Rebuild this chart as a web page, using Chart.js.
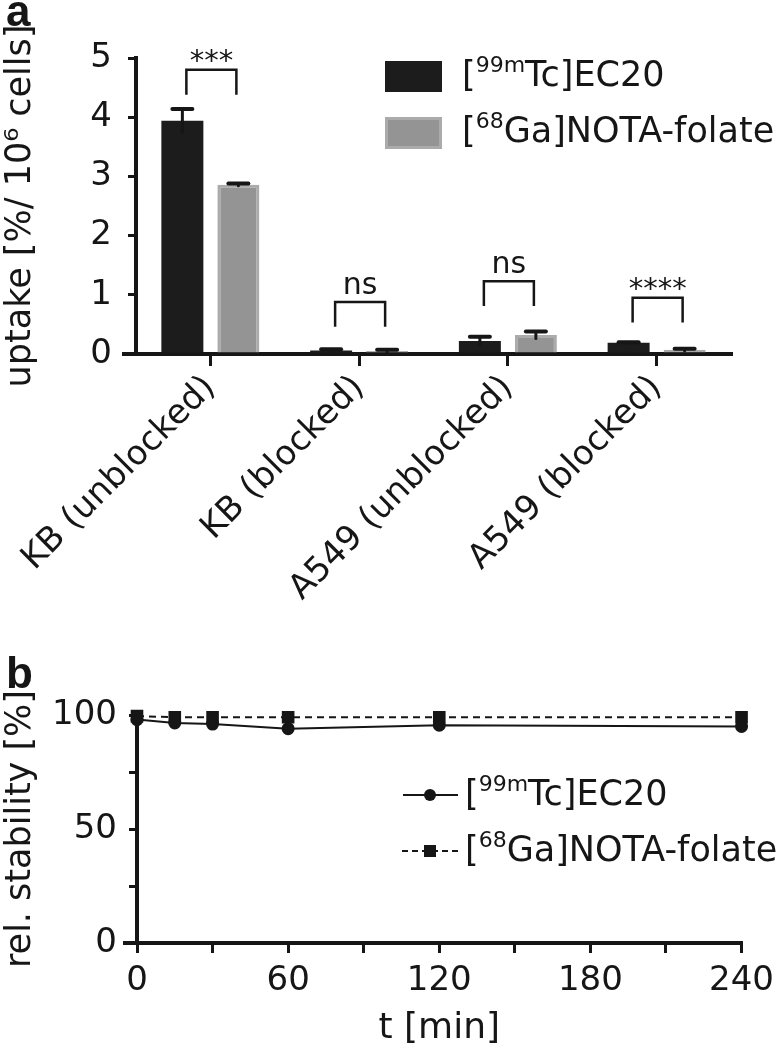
<!DOCTYPE html>
<html>
<head>
<meta charset="utf-8">
<script src="https://cdn.jsdelivr.net/npm/chart.js@4"></script>
<style>
    body { margin: 0; background: #fff; }
    #wrap { position: relative; width: 782px; height: 1050px; overflow: hidden; }
    canvas { position: absolute; left: 0; }
    #chartA { top: 0; }
    #chartB { top: 650px; }
</style>
</head>
<body>
<div id="wrap">
    <canvas id="chartA" width="782" height="650"></canvas>
    <canvas id="chartB" width="782" height="400"></canvas>
</div>
<script>
// panel a - uptake
const groups = ['KB (unblocked)', 'KB (blocked)', 'A549 (unblocked)', 'A549 (blocked)'];
const ec20Uptake = [3.94, 0.06, 0.22, 0.19];
const ec20Err = [0.2, 0.02, 0.07, 0.01];
const folateUptake = [2.86, 0.05, 0.32, 0.07];
const folateErr = [0.02, 0.02, 0.06, 0.02];
const sigLabels = ['***', 'ns', 'ns', '****'];
const sigTop = [4.8, 0.88, 1.23, 0.95];
const sigArm = 0.42;
const uptakeTicks = [0, 1, 2, 3, 4, 5];

// panel b - stability
const times = [0, 15, 30, 60, 120, 240];
const ec20Stability = [98, 96.5, 96, 94, 95.5, 95];
const folateStability = [99.5, 99, 99, 99, 99, 99];
const timeTicks = [0, 60, 120, 180, 240];
const stabilityTicks = [0, 50, 100];

// legend text split into [before, superscript, after]
const ec20Name = ['[', '99m', 'Tc]EC20'];
const folateName = ['[', '68', 'Ga]NOTA-folate'];

const ink = '#161616';
const FONT = 'DejaVu Sans';

function drawSupText(ctx, x, y, parts, size) {
    ctx.fillStyle = ink;
    ctx.textBaseline = 'middle';
    ctx.textAlign = 'left';
    ctx.font = size + 'px "' + FONT + '"';
    ctx.fillText(parts[0], x, y);
    x += ctx.measureText(parts[0]).width;
    ctx.font = Math.round(size * 0.62) + 'px "' + FONT + '"';
    ctx.fillText(parts[1], x, y - size * 0.3);
    x += ctx.measureText(parts[1]).width;
    ctx.font = size + 'px "' + FONT + '"';
    ctx.fillText(parts[2], x, y);
}

function panelLabel(ctx, text, y) {
    ctx.fillStyle = ink;
    ctx.font = 'bold 44px "Liberation Sans"';
    ctx.textAlign = 'left';
    ctx.textBaseline = 'alphabetic';
    ctx.fillText(text, 6, y);
}

function extendXAxis(chart) {
    const ctx = chart.ctx;
    const a = chart.chartArea;
    ctx.save();
    ctx.strokeStyle = ink;
    ctx.lineWidth = 4;
    ctx.beginPath();
    ctx.moveTo(a.left - 14, a.bottom);
    ctx.lineTo(a.left, a.bottom);
    ctx.stroke();
    ctx.restore();
}

const panelA = {
    id: 'panelA',
    afterDatasetsDraw(chart) {
        const ctx = chart.ctx;
        const y = chart.scales.y;
        const errs = [ec20Err, folateErr];
        const vals = [ec20Uptake, folateUptake];
        ctx.save();
        ctx.strokeStyle = ink;
        ctx.lineCap = 'round';
        // error bars
        for (let d = 0; d < 2; d++) {
            chart.getDatasetMeta(d).data.forEach((bar, i) => {
                const top = y.getPixelForValue(vals[d][i] + errs[d][i]);
                const bot = y.getPixelForValue(Math.max(0, vals[d][i] - errs[d][i]));
                ctx.lineWidth = 3;
                ctx.beginPath();
                ctx.moveTo(bar.x, top);
                ctx.lineTo(bar.x, bot);
                ctx.stroke();
                ctx.lineWidth = 4;
                ctx.beginPath();
                ctx.moveTo(bar.x - 10, top);
                ctx.lineTo(bar.x + 10, top);
                ctx.stroke();
            });
        }
        // significance brackets
        ctx.lineCap = 'butt';
        ctx.lineWidth = 2.5;
        const m0 = chart.getDatasetMeta(0).data;
        const m1 = chart.getDatasetMeta(1).data;
        sigLabels.forEach((lab, i) => {
            const x0 = m0[i].x + 4;
            const x1 = m1[i].x - 2;
            const yt = y.getPixelForValue(sigTop[i]);
            const yb = y.getPixelForValue(sigTop[i] - sigArm);
            ctx.beginPath();
            ctx.moveTo(x0, yb);
            ctx.lineTo(x0, yt);
            ctx.lineTo(x1, yt);
            ctx.lineTo(x1, yb);
            ctx.stroke();
            ctx.fillStyle = ink;
            ctx.textAlign = 'center';
            ctx.textBaseline = 'alphabetic';
            ctx.font = (lab === 'ns' ? 30 : 29) + 'px "' + FONT + '"';
            const m = ctx.measureText(lab);
            // sit the glyphs a few px above the bracket
            const gap = lab === 'ns' ? 8 : 7;
            ctx.fillText(lab, (x0 + x1) / 2, yt - gap - m.actualBoundingBoxDescent);
        });
        ctx.restore();
    },
    afterDraw(chart) {
        const ctx = chart.ctx;
        extendXAxis(chart);
        ctx.save();
        const ds = chart.data.datasets;
        ctx.fillStyle = ds[0].backgroundColor;
        ctx.fillRect(385, 61, 57, 31);
        ctx.fillStyle = ds[1].borderColor;
        ctx.fillRect(385, 117, 57, 32);
        ctx.fillStyle = ds[1].backgroundColor;
        ctx.fillRect(388, 120, 51, 26);
        drawSupText(ctx, 462, 77, ec20Name, 35);
        drawSupText(ctx, 462, 133, folateName, 35);
        panelLabel(ctx, 'a', 26);
        ctx.restore();
    }
};

const panelB = {
    id: 'panelB',
    afterDraw(chart) {
        const ctx = chart.ctx;
        extendXAxis(chart);
        ctx.save();
        ctx.strokeStyle = ink;
        ctx.fillStyle = ink;
        ctx.lineWidth = 2;
        // solid line with circle
        ctx.beginPath();
        ctx.moveTo(403, 145);
        ctx.lineTo(458, 145);
        ctx.stroke();
        ctx.beginPath();
        ctx.arc(430, 145, 6, 0, Math.PI * 2);
        ctx.fill();
        // dashed line with square
        ctx.setLineDash([6, 4]);
        ctx.beginPath();
        ctx.moveTo(402, 201);
        ctx.lineTo(458, 201);
        ctx.stroke();
        ctx.setLineDash([]);
        ctx.fillRect(424, 195, 12, 12);
        drawSupText(ctx, 465, 146, ec20Name, 35);
        drawSupText(ctx, 465, 202, folateName, 35);
        panelLabel(ctx, 'b', 38);
        ctx.restore();
    }
};

const axisGrid = { drawOnChartArea: false, color: ink, lineWidth: 3 };
const axisBorder = { color: ink, width: 4 };
const tickFont = { family: FONT, size: 34 };

new Chart(document.getElementById('chartA'), {
    type: 'bar',
    data: {
        labels: groups,
        datasets: [{
            label: '[99mTc]EC20',
            data: ec20Uptake,
            backgroundColor: '#1c1c1c',
            borderWidth: 0,
            barPercentage: 0.75,
            categoryPercentage: 0.753
        }, {
            label: '[68Ga]NOTA-folate',
            data: folateUptake,
            backgroundColor: '#949494',
            borderColor: '#ababab',
            borderWidth: 3,
            barPercentage: 0.75,
            categoryPercentage: 0.753
        }]
    },
    options: {
        responsive: false,
        animation: false,
        devicePixelRatio: 1,
        layout: { padding: { top: 58, right: 51, left: 0, bottom: 0 } },
        plugins: { legend: { display: false }, tooltip: { enabled: false } },
        scales: {
            x: {
                grid: Object.assign({ offset: false, tickLength: 12 }, axisGrid),
                border: axisBorder,
                ticks: {
                    color: ink,
                    font: { family: FONT, size: 34 },
                    minRotation: 45,
                    maxRotation: 45,
                    autoSkip: false,
                    padding: 2
                },
                afterFit: (s) => { s.height = 296; }
            },
            y: {
                min: 0,
                max: 5,
                grid: Object.assign({ tickLength: 8 }, axisGrid),
                border: axisBorder,
                ticks: {
                    stepSize: 0.5,
                    color: ink,
                    font: tickFont,
                    padding: 16,
                    callback: (v) => uptakeTicks.includes(v) ? v : ''
                },
                title: {
                    display: true,
                    text: 'uptake [%/ 10⁶ cells]',
                    color: ink,
                    font: { family: FONT, size: 35 },
                    padding: { top: 0, bottom: 0 }
                },
                afterFit: (s) => { s.width = 136; }
            }
        }
    },
    plugins: [panelA]
});

new Chart(document.getElementById('chartB'), {
    type: 'line',
    data: {
        datasets: [{
            label: '[99mTc]EC20',
            data: times.map((t, i) => ({ x: t, y: ec20Stability[i] })),
            borderColor: ink,
            backgroundColor: ink,
            borderWidth: 2,
            pointStyle: 'circle',
            pointRadius: 5.5,
            clip: false
        }, {
            label: '[68Ga]NOTA-folate',
            data: times.map((t, i) => ({ x: t, y: folateStability[i] })),
            borderColor: ink,
            backgroundColor: ink,
            borderWidth: 2,
            borderDash: [7, 5],
            pointStyle: 'rect',
            pointRadius: 7.5,
            clip: false
        }]
    },
    options: {
        responsive: false,
        animation: false,
        devicePixelRatio: 1,
        layout: { padding: { top: 65, right: 24, left: 0, bottom: 0 } },
        plugins: { legend: { display: false }, tooltip: { enabled: false } },
        scales: {
            x: {
                type: 'linear',
                min: 0,
                max: 240,
                grid: Object.assign({ tickLength: 10 }, axisGrid),
                border: axisBorder,
                ticks: {
                    stepSize: 30,
                    color: ink,
                    font: tickFont,
                    maxRotation: 0,
                    padding: 8,
                    callback: (v) => timeTicks.includes(v) ? v : ''
                },
                title: {
                    display: true,
                    text: 't [min]',
                    color: ink,
                    font: { family: FONT, size: 36 },
                    padding: { top: 0, bottom: 0 }
                },
                afterFit: (s) => { s.height = 107; }
            },
            y: {
                min: 0,
                max: 100,
                grid: Object.assign({ tickLength: 8 }, axisGrid),
                border: axisBorder,
                ticks: {
                    stepSize: 25,
                    color: ink,
                    font: tickFont,
                    padding: 12,
                    callback: (v) => stabilityTicks.includes(v) ? v : ''
                },
                title: {
                    display: true,
                    text: 'rel. stability [%]',
                    color: ink,
                    font: { family: FONT, size: 35 },
                    padding: { top: 0, bottom: 0 }
                },
                afterFit: (s) => { s.width = 137; }
            }
        }
    },
    plugins: [panelB]
});
</script>
</body>
</html>
